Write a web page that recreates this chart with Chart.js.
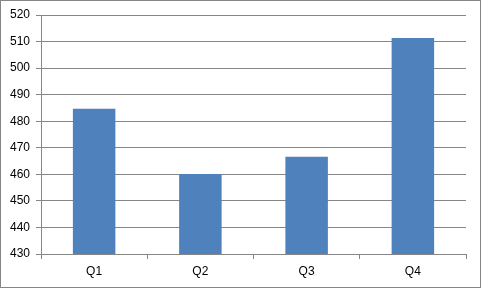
<!DOCTYPE html>
<html>
<head>
<meta charset="utf-8">
<script src="https://cdn.jsdelivr.net/npm/chart.js@4/dist/chart.umd.min.js"></script>
<style>
  body { margin: 0; background: #fff; }
</style>
</head>
<body>
<canvas id="chart" width="481" height="289"></canvas>
<script>
const quarters = ['Q1', 'Q2', 'Q3', 'Q4']
const values = [484.7, 460.1, 466.6, 511.3]
const yMin = 430
const yMax = 520
const yStep = 10

const gray = '#868686'

// outer frame round the whole chart
const frame = {
    id: 'frame',
    afterDraw(chart) {
        const ctx = chart.ctx
        ctx.save()
        ctx.strokeStyle = gray
        ctx.lineWidth = 1
        ctx.strokeRect(0.5, 0.5, chart.width - 1, chart.height - 2)
        ctx.restore()
    }
}

new Chart(document.getElementById('chart'), {
    type: 'bar',
    data: {
        labels: quarters,
        datasets: [
            {
                data: values,
                backgroundColor: '#4F81BD',
                barPercentage: 0.4,
                categoryPercentage: 1
            }
        ]
    },
    options: {
        responsive: false,
        animation: false,
        layout: { padding: { top: 15, right: 15, left: 0, bottom: 0 } },
        plugins: {
            legend: { display: false },
            tooltip: { enabled: false }
        },
        scales: {
            x: {
                grid: {
                    drawOnChartArea: false,
                    drawTicks: true,
                    tickLength: 5,
                    color: gray
                },
                border: { display: false },
                ticks: {
                    color: '#000',
                    padding: 5,
                    font: { family: 'Liberation Sans', size: 12 }
                },
                afterFit(scale) { scale.height = 289 - 254 }
            },
            y: {
                min: yMin,
                max: yMax,
                grid: { color: gray, tickLength: 5 },
                border: { color: gray },
                ticks: {
                    stepSize: yStep,
                    color: '#000',
                    padding: 6,
                    font: { family: 'Liberation Sans', size: 12 }
                },
                afterFit(scale) { scale.width = 41 }
            }
        }
    },
    plugins: [frame]
})
</script>
</body>
</html>
